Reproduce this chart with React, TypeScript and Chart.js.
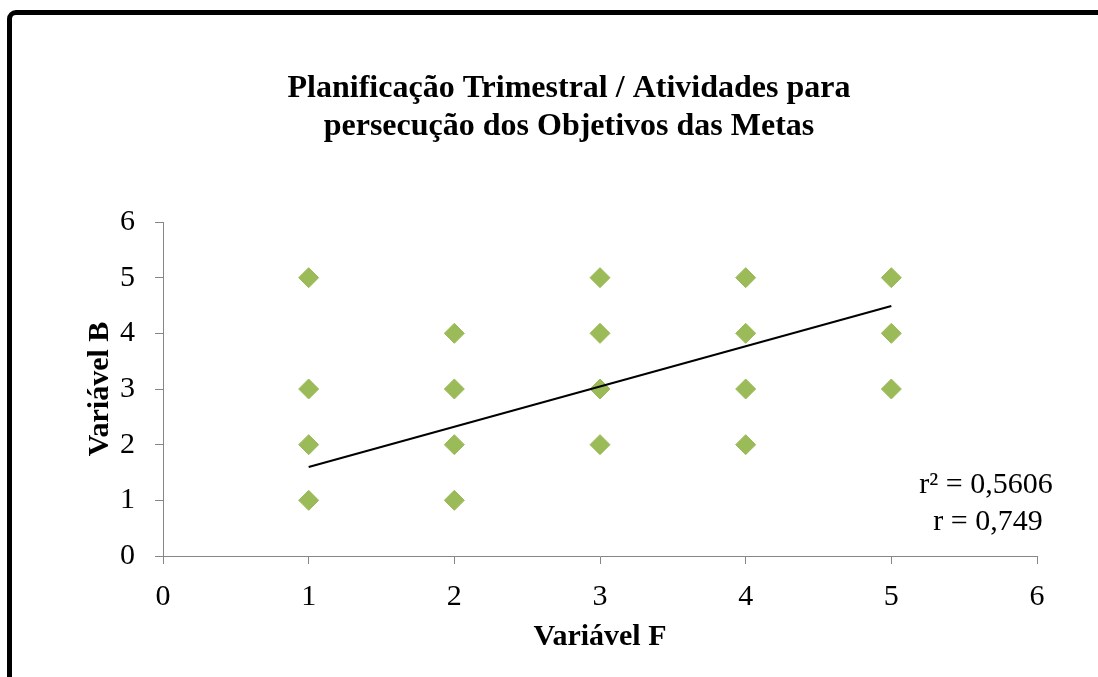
import React, { useEffect, useRef } from "react";
import { Chart, registerables } from "chart.js";

Chart.register(...registerables);

const titleLines = ["Planificação Trimestral / Atividades para", "persecução dos Objetivos das Metas"];
const xAxisTitle = "Variável F";
const yAxisTitle = "Variável B";
const xValues = [1, 1, 1, 1, 2, 2, 2, 2, 3, 3, 3, 3, 4, 4, 4, 4, 5, 5, 5];
const yValues = [5, 3, 2, 1, 4, 3, 2, 1, 5, 4, 3, 2, 5, 4, 3, 2, 5, 4, 3];
const trendX = [1, 5];
const trendY = [1.6, 4.49];
const statLines = ["r² = 0,5606", "r = 0,749"];

const FONT = "'Liberation Serif', 'Times New Roman', serif";

export default function App() {
  const ref = useRef<HTMLCanvasElement | null>(null);

  useEffect(() => {
    if (!ref.current) return;
    const textPlugin = {
      id: "texts",
      afterDraw(chart: any) {
        const ctx = chart.ctx;
        const area = chart.chartArea;
        ctx.save();
        ctx.fillStyle = "#000";
        ctx.textAlign = "center";
        // chart title
        ctx.font = `bold 32px ${FONT}`;
        ctx.textBaseline = "alphabetic";
        ctx.fillText(titleLines[0], 569, 97);
        ctx.fillText(titleLines[1], 569, 135);
        // statistics
        ctx.font = `30px ${FONT}`;
        ctx.textBaseline = "middle";
        ctx.fillText(statLines[0], area.right - 51, area.bottom - 71);
        ctx.fillText(statLines[1], area.right - 49, area.bottom - 34);
        ctx.restore();
      },
    };
    const chart = new Chart(ref.current, {
      type: "scatter",
      data: {
        datasets: [
          {
            type: "line",
            data: trendX.map((x, i) => ({ x, y: trendY[i] })),
            borderColor: "#000",
            borderWidth: 2,
            pointRadius: 0,
            showLine: true,
            fill: false,
          } as any,
          {
            data: xValues.map((x, i) => ({ x, y: yValues[i] })),
            pointStyle: "rectRot",
            pointRadius: 10,
            backgroundColor: "#9BBB59",
            borderColor: "#9BBB59",
            borderWidth: 1,
          },
        ],
      },
      options: {
        responsive: false,
        animation: false,
        layout: { padding: { left: 0, right: 61, top: 222, bottom: 0 } },
        plugins: {
          legend: { display: false },
          tooltip: { enabled: false },
          title: { display: false },
        },
        scales: {
          x: {
            type: "linear",
            min: 0,
            max: 6,
            ticks: { stepSize: 1, color: "#000", font: { family: FONT, size: 30 }, padding: 15, maxRotation: 0 },
            grid: { drawOnChartArea: false, drawTicks: true, tickLength: 8, color: "#868686" },
            border: { color: "#868686", width: 1 },
            title: {
              display: true,
              text: xAxisTitle,
              color: "#000",
              font: { family: FONT, size: 30, weight: "bold" },
              padding: { top: 0, bottom: 22 },
            },
            afterFit(s: any) {
              s.height = 121;
            },
          },
          y: {
            min: 0,
            max: 6,
            ticks: { stepSize: 1, color: "#000", font: { family: FONT, size: 30 }, padding: 20 },
            grid: { drawOnChartArea: false, drawTicks: true, tickLength: 8, color: "#868686" },
            border: { color: "#868686", width: 1 },
            title: {
              display: true,
              text: yAxisTitle,
              color: "#000",
              font: { family: FONT, size: 30, weight: "bold" },
              padding: { top: 82, bottom: 0 },
            },
            afterFit(s: any) {
              s.width = 163;
            },
          },
        },
      },
      plugins: [textPlugin],
    });
    return () => chart.destroy();
  }, []);

  return (
    <div style={{ position: "fixed", left: 0, top: 0, width: 1098, height: 677, overflow: "hidden", background: "#fff" }}>
      <div
        style={{
          position: "absolute",
          left: 7,
          top: 10,
          width: 1200,
          height: 800,
          border: "5px solid #000",
          borderRadius: 9,
          boxSizing: "border-box",
        }}
      />
      <canvas ref={ref} width={1098} height={677} style={{ position: "absolute", left: 0, top: 0 }} />
    </div>
  );
}
